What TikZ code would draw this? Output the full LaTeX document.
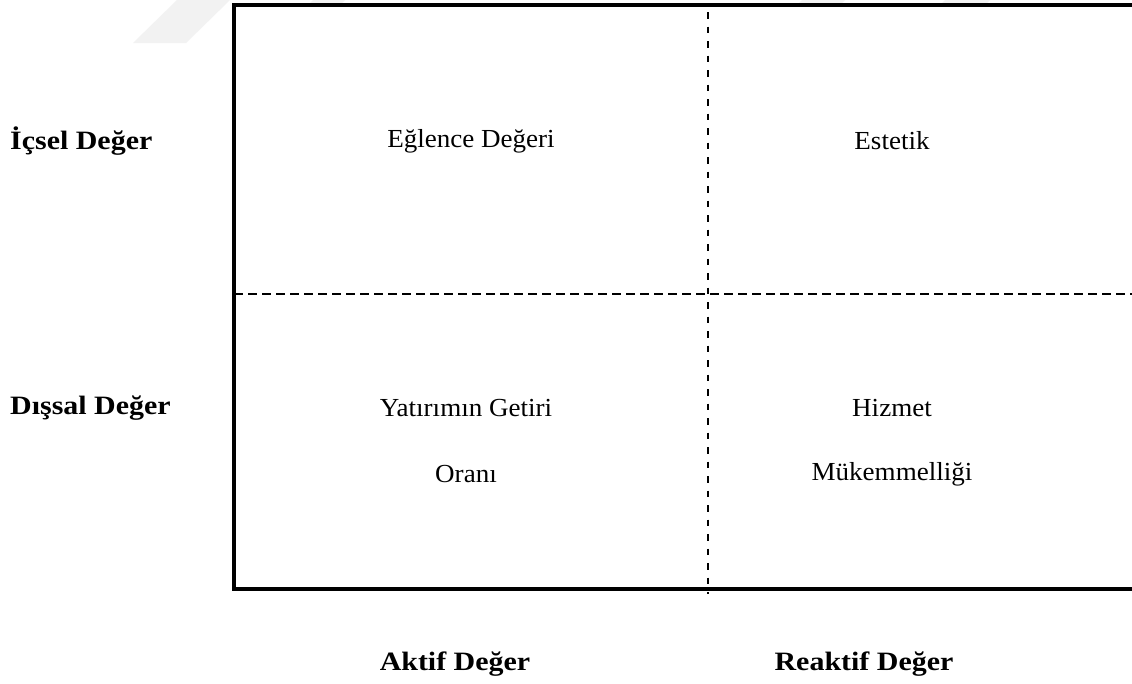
\documentclass[tikz,border=0pt]{standalone}
\usepackage{fontspec}
\setmainfont{Liberation Serif}[FakeStretch=1.04]
\newfontfamily\headfont{Liberation Serif}[FakeStretch=1.13]
\begin{document}
\begin{tikzpicture}[x=1pt,y=-1pt,
  cell/.style={font=\fontsize{26}{30}\selectfont, inner sep=0pt},
  axis/.style={font=\headfont\bfseries\fontsize{26.5}{30}\selectfont, inner sep=0pt},
  frame/.style={line width=3.2pt},
  split/.style={line width=2pt, dash pattern=on 8.5pt off 5.5pt},
  vsplit/.style={line width=1.9pt, dash pattern=on 6.5pt off 8pt},
  ghost/.style={fill=black!5, draw=none}]
\useasboundingbox (0,0) rectangle (1132,683);
\fill[white] (0,0) rectangle (1132,683);

% faint background shapes along the top edge
\fill[ghost] (133,43) -- (186,43) -- (230,0) -- (177,0) -- cycle;
\fill[ghost] (308,5) -- (340,5) -- (345,0) -- (313,0) -- cycle;
\fill[ghost] (797,5) -- (840,5) -- (845,0) -- (802,0) -- cycle;
\fill[ghost] (940,5) -- (985,5) -- (990,0) -- (945,0) -- cycle;

% outer frame, open towards the right edge
\draw[frame] (1140,5) -- (234,5) -- (234,589) -- (1140,589);

% quadrant dividers
\coordinate (vt) at (708,12);
\coordinate (vb) at (708,594);
\coordinate (hl) at (234,294);
\coordinate (hr) at (1140,294);
\draw[vsplit] (vt) -- (vb);
\draw[split] (hl) -- (hr);

% quadrant contents
\node[cell] (eglence) at (471,141) {Eğlence Değeri};
\node[cell] (estetik) at (892,141) {Estetik};
\node[cell] (yatirim) at (466,408) {Yatırımın Getiri};
\node[cell] (orani) at (466,474) {Oranı};
\node[cell] (hizmet) at (892,408) {Hizmet};
\node[cell] (mukemmel) at (892,474) {Mükemmelliği};

% axis labels
\node[axis, anchor=west] (icsel) at (10,141) {İçsel Değer};
\node[axis, anchor=west] (dissal) at (10,408) {Dışsal Değer};
\node[axis] (aktif) at (455,664) {Aktif Değer};
\node[axis] (reaktif) at (864,664) {Reaktif Değer};
\end{tikzpicture}
\end{document}
